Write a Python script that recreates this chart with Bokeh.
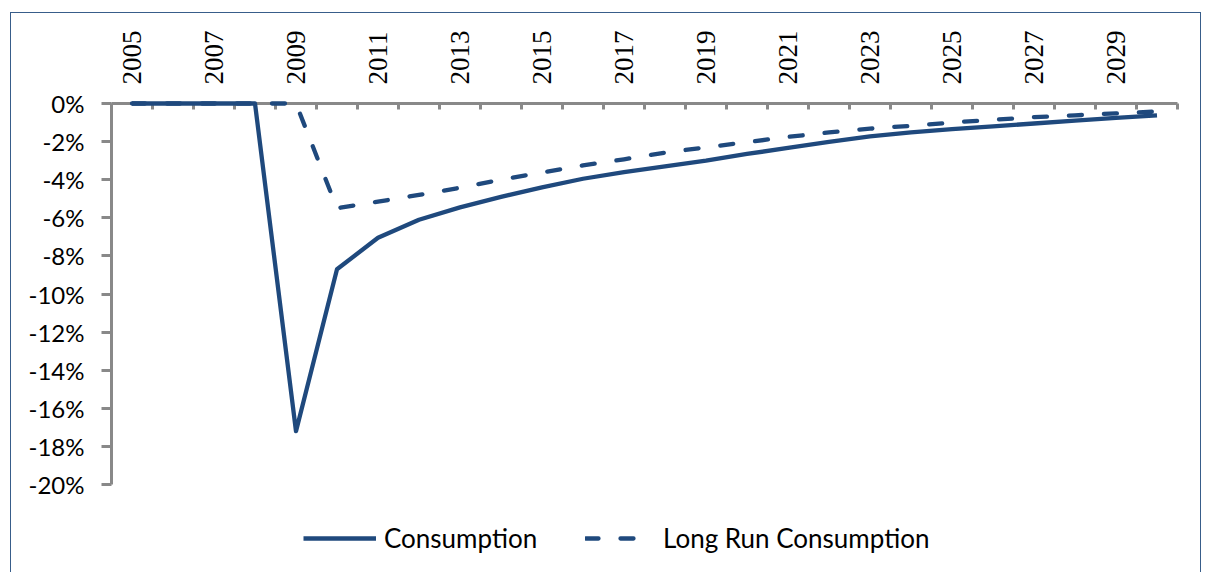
from bokeh.plotting import figure
from bokeh.models import (FixedTicker, CustomJSTickFormatter, Range1d, Legend,
                          LegendItem)
from bokeh.embed import file_html
from bokeh.resources import INLINE

# ---- data ----
years = [2005, 2006, 2007, 2008, 2009, 2010, 2011, 2012, 2013, 2014, 2015, 2016, 2017,
         2018, 2019, 2020, 2021, 2022, 2023, 2024, 2025, 2026, 2027, 2028, 2029, 2030]
consumption = [0, 0, 0, 0, -17.2, -8.7, -7.05, -6.1, -5.45, -4.9, -4.4, -3.95, -3.6,
               -3.3, -3.0, -2.65, -2.33, -2.02, -1.72, -1.52, -1.35, -1.2, -1.05, -0.9,
               -0.75, -0.62]
long_run = [0, 0, 0, 0, 0, -5.5, -5.15, -4.8, -4.42, -4.0, -3.62, -3.25, -2.93,
            -2.58, -2.3, -2.03, -1.75, -1.52, -1.32, -1.17, -1.0, -0.85, -0.72, -0.62,
            -0.52, -0.42]
year_label_ticks = years[::2]
y_ticks = [0, -2, -4, -6, -8, -10, -12, -14, -16, -18, -20]
series_names = ["Consumption", "Long Run Consumption"]

BLUE = "#1F497D"
GRAY = "#898989"
FRAME = "#385D8A"

# layout (pixels)
W, H = 1191, 560
TOP, AXIS_H = 90, 381          # frame top, pixel height of the 0..-20 axis
FRAME_H = H - TOP
y_start = y_ticks[-1] * FRAME_H / AXIS_H

p = figure(width=W, height=H, output_backend="svg", toolbar_location=None,
           x_range=Range1d(years[0] - 0.5, years[-1] + 0.5),
           y_range=Range1d(y_start, y_ticks[0]),
           x_axis_location="above",
           min_border_left=100, min_border_right=25,
           min_border_top=TOP, min_border_bottom=0)
p.styles = {"border-top": f"1px solid {FRAME}", "border-left": f"1px solid {FRAME}",
            "border-right": f"1px solid {FRAME}", "margin-left": "10px",
            "margin-top": "12px"}
p.outline_line_color = None
p.xgrid.visible = False
p.ygrid.visible = False
p.background_fill_color = "white"
p.border_fill_color = "white"

r1 = p.line(years, consumption, line_color=BLUE, line_width=4.3, line_join="round",
            level="overlay")
r2 = p.line(years, long_run, line_color=BLUE, line_width=4.3, line_dash="13 22",
            line_cap="round", line_join="round", level="overlay")

# x axis (top)
xa = p.xaxis[0]
xa.ticker = FixedTicker(ticks=year_label_ticks,
                        minor_ticks=[y - 0.5 for y in years] + [years[-1] + 0.5])
xa.major_tick_line_color = None
xa.major_tick_in = 0
xa.major_tick_out = 0
xa.minor_tick_line_color = GRAY
xa.minor_tick_line_width = 3
xa.minor_tick_in = 6
xa.minor_tick_out = 0
xa.axis_line_color = GRAY
xa.axis_line_width = 3
xa.major_label_orientation = "vertical"
xa.major_label_text_font = "Liberation Serif"
xa.major_label_text_font_size = "27px"
xa.major_label_text_color = "black"
xa.major_label_standoff = 19

# y axis (left)
ya = p.yaxis[0]
ya.bounds = (y_ticks[-1], y_ticks[0])
ya.ticker = FixedTicker(ticks=y_ticks)
ya.formatter = CustomJSTickFormatter(code="return tick + '%';")
ya.major_tick_out = 10
ya.major_tick_in = 0
ya.major_tick_line_width = 3
ya.major_tick_line_color = GRAY
ya.minor_tick_line_color = None
ya.axis_line_color = GRAY
ya.axis_line_width = 3
ya.major_label_text_font = "Lato"
ya.major_label_text_font_size = "24px"
ya.major_label_text_color = "black"
ya.major_label_standoff = 17

common = dict(orientation="horizontal", glyph_height=30, label_height=30,
              padding=0, margin=0, spacing=0, border_line_color=None,
              background_fill_alpha=0, label_text_font="Lato",
              label_text_font_size="26px", label_text_color="black")
leg1 = Legend(items=[LegendItem(label=series_names[0], renderers=[r1])],
              location=(192, 19), glyph_width=73, label_standoff=8, **common)
leg2 = Legend(items=[LegendItem(label=series_names[1], renderers=[r2])],
              location=(474, 19), glyph_width=53, label_standoff=25, **common)
p.add_layout(leg1)
p.add_layout(leg2)

open("out.html", "w").write(file_html(p, INLINE))
